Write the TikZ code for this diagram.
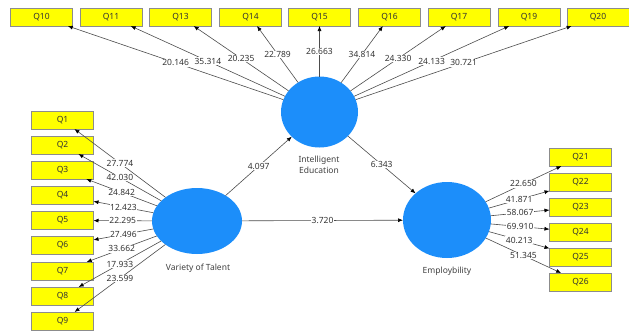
\documentclass[tikz,border=0pt]{standalone}
\usepackage{fontspec}
\setmainfont{Noto Sans}
\usetikzlibrary{arrows.meta,shapes.geometric}
\definecolor{latentblue}{RGB}{28,142,250}
\definecolor{boxyellow}{RGB}{255,255,0}
\tikzset{
    indicator/.style={
    rectangle,draw=black!45,line width=0.5pt,fill=boxyellow,
    minimum width=62pt,minimum height=18pt,inner sep=0pt,outer sep=0pt,
    font=\fontsize{8.5}{10}\selectfont,text=black!80
    },
    latent/.style={
    ellipse,fill=latentblue,inner sep=0pt,outer sep=0pt
    },
    latentname/.style={
    align=center,font=\fontsize{8.5}{10.5}\selectfont,text=black!75
    },
    loading/.style={
    fill=white,inner sep=0.6pt,font=\fontsize{8.5}{10}\selectfont,text=black!80
    },
    link/.style={
    draw=black!70,line width=0.6pt,-{Latex[length=5pt,width=4pt,color=black]}
    },
}
\begin{document}
\begin{tikzpicture}[x=1pt,y=-1pt]
  \useasboundingbox (0,0) rectangle (629,333);

  % latent variables
  \node[latent,minimum width=77pt,minimum height=71pt] (IE) at (319.5,112) {};
  \node[latent,minimum width=90pt,minimum height=66pt] (VT) at (197,221) {};
  \node[latent,minimum width=88pt,minimum height=76pt] (EMP) at (447,220) {};
  \node[latentname] (IEname) at (319,165) {Intelligent\\Education};
  \node[latentname] (VTname) at (198,268) {Variety of Talent};
  \node[latentname] (EMPname) at (447,271) {Employbility};

  % top indicators
  \node[indicator] (Q10) at (41.5,17) {Q10};
  \node[indicator] (Q11) at (111,17) {Q11};
  \node[indicator] (Q13) at (180.5,17) {Q13};
  \node[indicator] (Q14) at (250.5,17) {Q14};
  \node[indicator] (Q15) at (319.5,17) {Q15};
  \node[indicator] (Q16) at (389.5,17) {Q16};
  \node[indicator] (Q17) at (459,17) {Q17};
  \node[indicator] (Q19) at (529,17) {Q19};
  \node[indicator] (Q20) at (598,17) {Q20};

  % left indicators
  \node[indicator] (Q1) at (62.5,120) {Q1};
  \node[indicator] (Q2) at (62.5,145) {Q2};
  \node[indicator] (Q3) at (62.5,170) {Q3};
  \node[indicator] (Q4) at (62.5,195.5) {Q4};
  \node[indicator] (Q5) at (62.5,220.5) {Q5};
  \node[indicator] (Q6) at (62.5,245.5) {Q6};
  \node[indicator] (Q7) at (62.5,271) {Q7};
  \node[indicator] (Q8) at (62.5,296) {Q8};
  \node[indicator] (Q9) at (62.5,321) {Q9};

  % right indicators
  \node[indicator] (Q21) at (580.5,157) {Q21};
  \node[indicator] (Q22) at (580.5,182) {Q22};
  \node[indicator] (Q23) at (580.5,207) {Q23};
  \node[indicator] (Q24) at (580.5,232) {Q24};
  \node[indicator] (Q25) at (580.5,257) {Q25};
  \node[indicator] (Q26) at (580.5,282) {Q26};

  \path[link]
    (IE) edge node[loading] {20.146} (Q10)
         edge node[loading] {35.314} (Q11)
         edge node[loading] {20.235} (Q13)
         edge node[loading] {22.789} (Q14)
         edge node[loading] {26.663} (Q15)
         edge node[loading] {34.814} (Q16)
         edge node[loading] {24.330} (Q17)
         edge node[loading] {24.133} (Q19)
         edge node[loading] {30.721} (Q20)
    (VT) edge node[loading] {27.774} (Q1)
         edge node[loading] {42.030} (Q2)
         edge node[loading] {24.842} (Q3)
         edge node[loading] {12.423} (Q4)
         edge node[loading] {22.295} (Q5)
         edge node[loading] {27.496} (Q6)
         edge node[loading] {33.662} (Q7)
         edge node[loading] {17.933} (Q8)
         edge node[loading] {23.599} (Q9)
    (EMP) edge node[loading] {22.650} (Q21)
          edge node[loading] {41.871} (Q22)
          edge node[loading] {58.067} (Q23)
          edge node[loading] {69.910} (Q24)
          edge node[loading] {40.213} (Q25)
          edge node[loading] {51.345} (Q26)
    (VT) edge node[loading] {4.097} (IE)
         edge node[loading] {3.720} (EMP)
    (IE) edge node[loading] {6.343} (EMP);

\end{tikzpicture}
\end{document}
